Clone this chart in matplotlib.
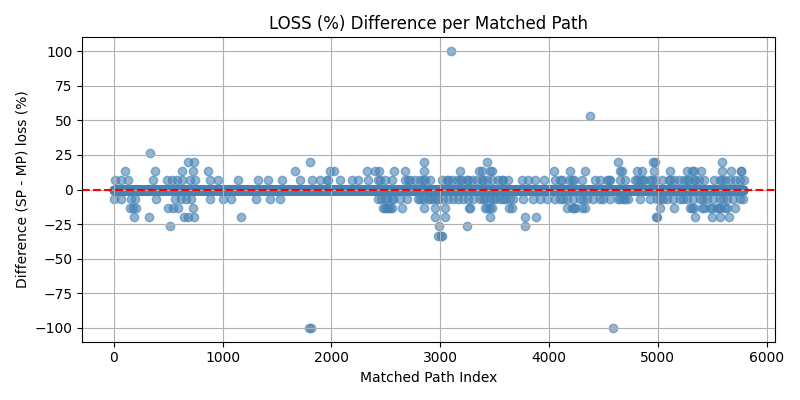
import numpy as np
import matplotlib.pyplot as plt

# --- DATA ---
N_PATHS = 5790  # number of matched paths, most of them have difference 0

# indices of matched paths per non-zero difference level (%)
idx_p6 = [9, 71, 132, 362, 485, 531, 577, 623, 699, 745, 883, 960, 1144, 1328, 1420,
          1543, 1711, 1819, 1895, 1957, 1972, 2079, 2187, 2248, 2340, 2432, 2447, 2493,
          2555, 2677, 2708, 2723, 2769, 2815, 2846, 2861, 2907, 3015, 3060, 3076, 3106,
          3153, 3183, 3199, 3245, 3260, 3290, 3337, 3383, 3398, 3429, 3475, 3536, 3567,
          3582, 3628, 3751, 3812, 3873, 3950, 4057, 4103, 4119, 4180, 4211, 4226, 4303,
          4425, 4471, 4532, 4548, 4563, 4655, 4701, 4793, 4809, 4839, 4855, 4870, 4931,
          4946, 4977, 5039, 5100, 5115, 5146, 5192, 5238, 5269, 5284, 5330, 5345, 5376,
          5422, 5514, 5575, 5591, 5621, 5667, 5713, 5759, 5789]
idx_p13 = [103, 379, 625, 726, 870, 1667, 1989, 2020, 2327, 2403, 2434, 2572, 2679, 2848,
           3185, 3354, 3385, 3462, 3477, 4044, 4197, 4335, 4657, 4673, 4810, 4857, 4964,
           5117, 5271, 5317, 5332, 5393, 5593, 5669, 5761, 5767]
idx_p20 = [679, 734, 1807, 2850, 3433, 4635, 4959, 4972, 5595]
idx_p27 = [331]
idx_p53 = [4379]
idx_p100 = [3100]
idx_m6 = [0, 69, 161, 191, 391, 559, 621, 667, 713, 881, 1004, 1081, 1311, 1433, 1525,
          2430, 2460, 2491, 2507, 2553, 2568, 2629, 2691, 2798, 2813, 2844, 2890, 2905,
          2936, 2967, 2982, 3028, 3074, 3120, 3166, 3212, 3258, 3304, 3365, 3396, 3411,
          3458, 3488, 3504, 3549, 3580, 3595, 3641, 3672, 3764, 3856, 3917, 3979, 4055,
          4101, 4132, 4163, 4224, 4285, 4316, 4347, 4408, 4469, 4500, 4561, 4638, 4653,
          4684, 4699, 4730, 4837, 4929, 4990, 5021, 5052, 5083, 5144, 5205, 5236, 5267,
          5328, 5389, 5420, 5451, 5512, 5573, 5604, 5635, 5696, 5757, 5785]
idx_m13 = [148, 176, 203, 501, 547, 593, 731, 2479, 2494, 2510, 2525, 2540, 2556, 2647,
           2847, 2954, 3046, 3261, 3276, 3414, 3430, 3461, 3476, 3629, 3660, 4166, 4212,
           4227, 4242, 4304, 4334, 5024, 5147, 5300, 5316, 5331, 5408, 5423, 5484, 5500,
           5546, 5561, 5576, 5622, 5638, 5714]
idx_m20 = [189, 327, 649, 680, 741, 1171, 2949, 3041, 3455, 3777, 3885, 4982, 4989, 5341,
           5495, 5571, 5657]
idx_m27 = [520, 2989, 3250, 3779]
idx_m33 = [2979, 3010, 3019]
idx_m100 = [1795, 1810, 4591]

levels = {
    6.67: idx_p6, 13.33: idx_p13, 20.0: idx_p20, 26.67: idx_p27, 53.33: idx_p53,
    100.0: idx_p100, -6.67: idx_m6, -13.33: idx_m13, -20.0: idx_m20, -26.67: idx_m27,
    -33.33: idx_m33, -100.0: idx_m100,
}

diff = np.zeros(N_PATHS)
for val, idxs in levels.items():
    diff[np.clip(idxs, 0, N_PATHS - 1)] = val

x = np.arange(N_PATHS)

plt.figure(figsize=(8, 4), dpi=100)
plt.scatter(x, diff, color='steelblue', alpha=0.6)
plt.axhline(0, color='red', linestyle='--')
plt.title("LOSS (%) Difference per Matched Path")
plt.xlabel("Matched Path Index")
plt.ylabel("Difference (SP - MP) loss (%)")
plt.grid(True)
plt.tight_layout()
plt.savefig("out.png")
